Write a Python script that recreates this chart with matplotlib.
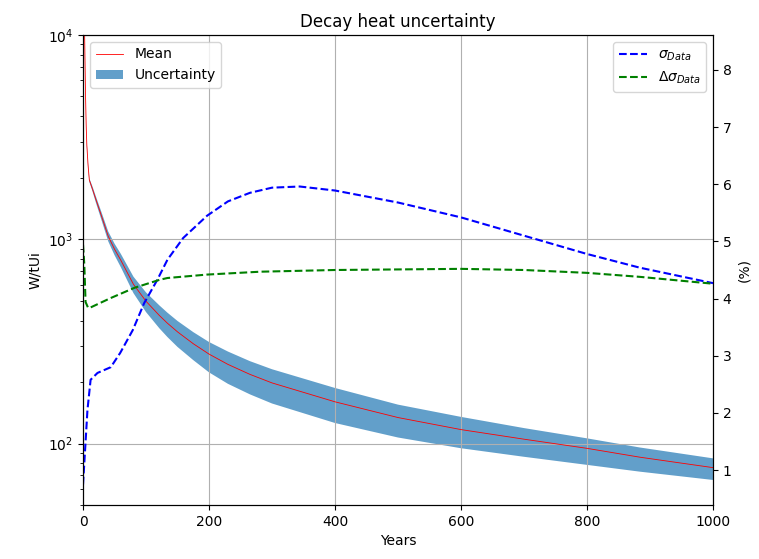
import matplotlib
matplotlib.use("Agg")
import matplotlib.pyplot as plt

# decay heat (W/tUi) vs years
years = [0, 1, 2, 3, 4, 5, 6, 8, 10, 15, 20, 30, 40, 50, 60, 80, 100, 121, 134,
         150, 175, 200, 230, 265, 300, 400, 500, 600, 700, 800, 884, 1000]
mean = [60000, 25000, 13000, 8000, 5000, 3600, 2900, 2300, 1950, 1760, 1580, 1280,
        1034, 894, 789, 602, 497, 424, 388, 352, 308, 274, 244, 218, 198, 160, 134,
        117, 105, 94.7, 85.7, 76.2]
upper = [61200, 25500, 13260, 8160, 5100, 3672, 2958, 2346, 1989, 1813, 1635, 1338,
         1091, 952, 848, 656, 549, 475, 437, 398, 351, 314, 282, 253, 231, 187, 155,
         135, 119, 106, 95.6, 84.6]
lower = [58800, 24500, 12740, 7840, 4900, 3528, 2842, 2254, 1911, 1716, 1525, 1222,
         977, 836, 730, 545, 440, 367, 332, 297, 256, 223, 196, 174, 157, 126, 107,
         94.8, 86.1, 78.6, 72.8, 66.3]

# relative uncertainties (%)
sig_years = [0, 7, 12, 23, 44, 59, 79, 97, 118, 134, 159, 197, 230, 265, 300, 344,
             400, 500, 600, 700, 800, 884, 1000]
sig_data = [0.75, 2.05, 2.58, 2.70, 2.80, 3.05, 3.45, 3.92, 4.33, 4.68, 5.06, 5.45,
            5.70, 5.85, 5.94, 5.96, 5.89, 5.68, 5.42, 5.10, 4.78, 4.54, 4.27]
dsig_years = [0, 2, 4, 8, 11, 44, 82, 122, 134, 197, 281, 400, 600, 700, 800, 884, 1000]
dsig_data = [4.94, 4.6, 3.94, 3.84, 3.84, 4.01, 4.19, 4.33, 4.36, 4.42, 4.47, 4.50,
             4.52, 4.50, 4.45, 4.38, 4.26]

fig = plt.figure(figsize=(7.59, 5.59), dpi=100)
ax = fig.add_axes([0.1094, 0.0966, 0.83, 0.8408])

ax.plot(years, mean, 'r', lw=0.6, label='Mean')
ax.fill_between(years, lower, upper, color='C0', alpha=0.7, lw=0, label='Uncertainty')
ax.set_yscale('log')
ax.set_ylim(50, 1e4)
ax.set_xlim(0, 1000)
ax.set_xlabel('Years')
ax.set_ylabel('W/tUi')
ax.set_title('Decay heat uncertainty')
ax.grid(True)
ax.legend(loc='upper left')

ax2 = ax.twinx()
ax2.plot(sig_years, sig_data, 'b--', label=r'$\sigma_{Data}$')
ax2.plot(dsig_years, dsig_data, 'g--', label=r'$\Delta\sigma_{Data}$')
ax2.set_ylim(0.39, 8.61)
ax2.set_ylabel('(%)')
ax2.legend(loc='upper right')

plt.savefig('out.png')
